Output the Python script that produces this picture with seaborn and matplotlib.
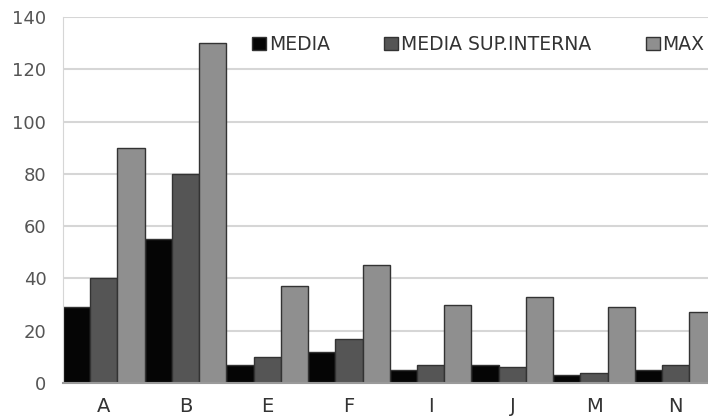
import pandas as pd
import numpy as np
import seaborn as sns
import matplotlib.pyplot as plt


categories = ["A", "B", "E", "F", "I", "J", "M", "N"]
media = [29, 55, 7, 12, 5, 7, 3, 5]
media_sup = [40, 80, 10, 17, 7, 6, 4, 7]
max_vals = [90, 130, 37, 45, 30, 33, 29, 27]
series = ["MEDIA", "MEDIA SUP.INTERNA", "MAX"]
colors = ["#050505", "#555555", "#8f8f8f"]

df = pd.DataFrame({
    "cat": categories * 3,
    "serie": [series[0]] * 8 + [series[1]] * 8 + [series[2]] * 8,
    "valor": media + media_sup + max_vals,
})

sns.set_style("white")
plt.rcParams['font.family'] = ['DejaVu Sans']

fig = plt.figure(figsize=(7.08, 4.17), dpi=100)
ax = fig.add_axes([63 / 708, 34 / 417, 1 - 63 / 708, 366 / 417])

sns.barplot(data=df, x="cat", y="valor", hue="serie", order=categories,
            hue_order=series, palette=colors, width=1.0, gap=0,
            edgecolor="#333333", linewidth=1.0, ax=ax, legend=True)

ax.set_ylim(0, 140)
ax.set_xlim(-0.5, 7.395)
ax.set_yticks(np.arange(0, 141, 20))
ax.yaxis.grid(True, color="#d6d6d6", linewidth=1.5)
ax.set_axisbelow(True)

for s in ["top", "right"]:
    ax.spines[s].set_visible(False)
ax.spines["left"].set_color("#d6d6d6")
ax.spines["bottom"].set_color("#9a9a9a")
ax.spines["bottom"].set_linewidth(1.5)

ax.tick_params(axis="y", length=0, pad=12, labelsize=13, labelcolor="#555555")
ax.tick_params(axis="x", length=0, pad=10, labelsize=14, labelcolor="#333333")
ax.set_xlabel("")
ax.set_ylabel("")

# legend across the top, cut off at the right edge like the source
handles, labels = ax.get_legend_handles_labels()
ax.legend(handles, labels, ncol=3, frameon=False, loc="center left",
          bbox_to_anchor=(0.293, 0.925), fontsize=13.5, handlelength=0.75,
          handleheight=0.75, handletextpad=0.15, columnspacing=2.9,
          labelcolor="#333333", borderaxespad=0, borderpad=0)

plt.savefig("out.png", dpi=100)
